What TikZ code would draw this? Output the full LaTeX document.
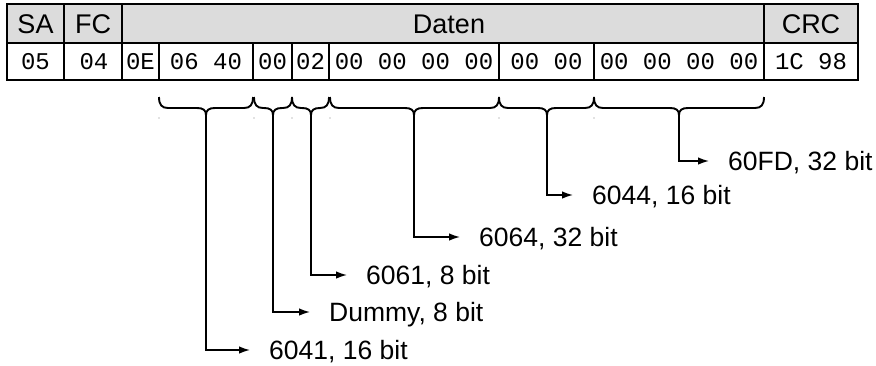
\documentclass[tikz,border=0pt]{standalone}
\usepackage{fontspec}
\setmainfont{Liberation Sans}
\setmonofont{Liberation Mono}
\usetikzlibrary{arrows.meta}
\definecolor{hdrgray}{RGB}{220,220,220}
\newcommand\mybrace[3]{%
  \draw[brace] (#1,97) .. controls (#1,105) and (#1+3,108) .. (#1+9,108)
    -- (#2-9,108) .. controls (#2-3,108) and (#2,110) .. (#2,115)
    .. controls (#2,110) and (#2+3,108) .. (#2+9,108)
    -- (#3-9,108) .. controls (#3-3,108) and (#3,105) .. (#3,97);}
\begin{document}
\begin{tikzpicture}[x=1pt,y=-1pt,
  grid/.style={line width=2pt},
  hdr/.style={font=\fontsize{27}{27}\selectfont, inner sep=0pt},
  dat/.style={font=\ttfamily\fontsize{24}{24}\selectfont, inner sep=0pt},
  lab/.style={font=\fontsize{26.5}{26.5}\selectfont, anchor=west, inner sep=0pt, text depth=0pt},
  brace/.style={line width=1.9pt},
  arr/.style={line width=1.5pt, -{Latex[length=11pt,width=7.5pt]}, shorten >=19pt},
  speck/.style={fill=gray, inner sep=0pt, minimum size=1.3pt, circle}]
\useasboundingbox (0,0) rectangle (876,365);
% table
\fill[hdrgray] (7,4) rectangle (858,43);
\draw[grid] (7,43) -- (858,43);
\foreach \x in {64,122,764} \draw[grid] (\x,4) -- (\x,80);
\foreach \x in {159,253,292,329,499,594} \draw[grid] (\x,43) -- (\x,80);
\draw[grid] (7,4) rectangle (858,80);
% header texts
\node[hdr] (hSA) at (35.5,24) {SA};
\node[hdr] (hFC) at (93,24) {FC};
\node[hdr] (hD) at (449,24) {Daten};
\node[hdr] (hCRC) at (811,24) {CRC};
% data texts
\node[dat] (d1) at (35.5,61.5) {05};
\node[dat] (d2) at (94,61.5) {04};
\node[dat] (d3) at (140.5,61.5) {0E};
\node[dat] (d4) at (206,61.5) {06 40};
\node[dat] (d5) at (272.5,61.5) {00};
\node[dat] (d6) at (310.5,61.5) {02};
\node[dat] (d7) at (414,61.5) {00 00 00 00};
\node[dat] (d8) at (546.5,61.5) {00 00};
\node[dat] (d9) at (679,61.5) {00 00 00 00};
\node[dat] (d10) at (811,61.5) {1C 98};
% braces
\mybrace{159}{206}{253}
\mybrace{254}{273}{292}
\mybrace{292}{311}{329}
\mybrace{330}{414}{499}
\mybrace{499}{547}{594}
\mybrace{594}{679}{764}
% specks
\foreach \x [count=\i] in {159,254,292,330,499,594} \node[speck] (s\i) at (\x,118) {};
% tips
\coordinate (t1) at (206,114);
\coordinate (t2) at (273,114);
\coordinate (t3) at (311,114);
\coordinate (t4) at (414,114);
\coordinate (t5) at (547,114);
\coordinate (t6) at (679,114);
% labels
\node[lab] (l1) at (269,350) {6041, 16 bit};
\node[lab] (l2) at (329,312) {Dummy, 8 bit};
\node[lab] (l3) at (366,275) {6061, 8 bit};
\node[lab] (l4) at (479,237) {6064, 32 bit};
\node[lab] (l5) at (592,195) {6044, 16 bit};
\node[lab] (l6) at (728,161) {60FD, 32 bit};
% connectors
\draw[arr] (t1) |- (l1.west);
\draw[arr] (t2) |- (l2.west);
\draw[arr] (t3) |- (l3.west);
\draw[arr] (t4) |- (l4.west);
\draw[arr] (t5) |- (l5.west);
\draw[arr] (t6) |- (l6.west);
\end{tikzpicture}
\end{document}
